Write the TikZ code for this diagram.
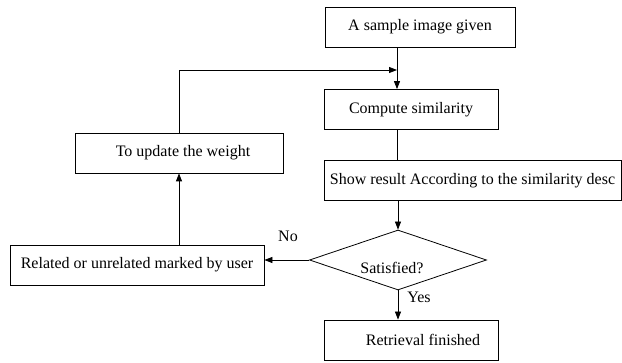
\documentclass[tikz,border=0pt]{standalone}
\usepackage{fontspec}
\setmainfont{Liberation Serif}
\usetikzlibrary{positioning, shapes.geometric, arrows.meta}

\begin{document}
\begin{tikzpicture}[x=0.75pt,y=-0.75pt,font=\fontsize{12}{14}\selectfont,
  box/.style={draw,line width=0.6pt,inner sep=0pt,minimum height=30pt},
  decision/.style={draw,diamond,line width=0.6pt,inner sep=0pt,minimum width=132.75pt,minimum height=45pt},
  arr/.style={-{Triangle[length=6pt,width=4.5pt]},line width=0.6pt}]
\useasboundingbox (0,0) rectangle (622,363);
% main column
\node[box,minimum width=142.5pt] (given) at (420,27) {A sample image given};
\node[box,minimum width=130.5pt] (compute) at (411,109.5) {Compute similarity};
\node[box,minimum width=222.75pt] (show) at (472.5,180.5) {Show result According to the similarity desc};
\node[decision] (sat) at (398,260) {};
\node at (392,268) {Satisfied?};
\node[box,minimum width=130.5pt] (done) at (411,340) {\hspace*{18pt}Retrieval finished};
% feedback side
\node[box,minimum width=190.5pt] (mark) at (137,265) {Related or unrelated marked by user};
\node[box,minimum width=156pt] (update) at (179,153) {\hspace*{6pt}To update the weight};
\coordinate (merge) at (397,70);
\draw[arr] (given.south -| merge) -- (compute.north -| merge);
\draw[line width=0.6pt] (compute.south -| merge) -- (show.north -| merge);
\draw[arr] (show.south -| sat.north) -- (sat.north);
\draw[arr] (sat.south) -- (sat.south |- done.north);
\draw[arr] (sat.west) -- (sat.west -| mark.east);
\draw[arr] (mark.north -| update.south) -- (update.south);
\draw[arr] (update.north) |- (merge);
\node (no) at (288,236) {No};
\node (yes) at (419,297) {Yes};
\end{tikzpicture}
\end{document}
